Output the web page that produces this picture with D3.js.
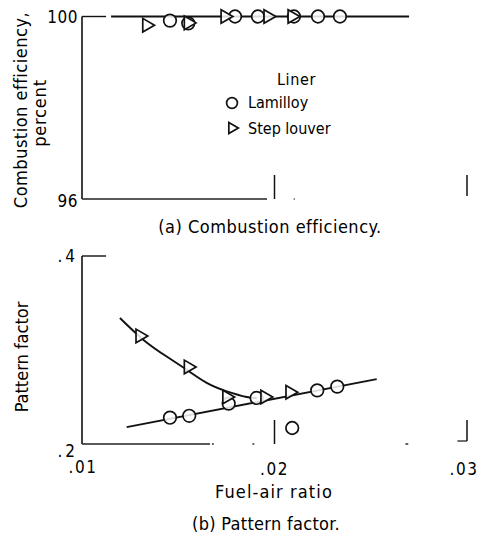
<!DOCTYPE html>
<html lang="en">
<head>
<meta charset="UTF-8">
<title>Combustion efficiency and pattern factor</title>
<style>
  body { margin: 0; background: #fff; }
  svg { display: block; }
  text { font-family: "DejaVu Sans Condensed", "Liberation Sans Narrow", "Liberation Sans", sans-serif; fill: #000; }
</style>
</head>
<body>
<script src="https://cdn.jsdelivr.net/npm/d3@7"></script>
<script>
// Fuel-air ratio axis
const xTicks = [0.01, 0.02, 0.03],
    xTickLabels = [".01", ".02", ".03"];

// (a) Combustion efficiency, percent
const effTicks = [96, 100],
    effTickLabels = ["96", "100"];
const effLamFar = [0.01457, 0.01552, 0.01795, 0.01914, 0.02101, 0.02226, 0.0234],
    effLamVal = [99.91, 99.85, 100, 100, 100, 100, 100];
const effStepFar = [0.01336, 0.01552, 0.01743, 0.01966, 0.02091],
    effStepVal = [99.81, 99.86, 100, 100, 100];
const effFitFar = [0.01151, 0.02699],
    effFitVal = [100, 100];

// (b) Pattern factor
const pfTicks = [0.2, 0.4],
    pfTickLabels = [".2", ".4"];
const pfLamFar = [0.01457, 0.01557, 0.01762, 0.01907, 0.02092, 0.02222, 0.02326],
    pfLamVal = [0.228, 0.230, 0.243, 0.249, 0.217, 0.257, 0.261];
const pfStepFar = [0.01301, 0.01552, 0.01752, 0.0195, 0.0208],
    pfStepVal = [0.315, 0.282, 0.250, 0.250, 0.255];
const pfLamFitFar = [0.01232, 0.02531],
    pfLamFitVal = [0.218, 0.269];
const pfStepFitFar = [0.01197, 0.01318, 0.0144, 0.01544, 0.01648, 0.01752, 0.01856, 0.01908],
    pfStepFitVal = [0.334, 0.311, 0.293, 0.279, 0.265, 0.256, 0.250, 0.249];

const width = 481, height = 540;
const x = d3.scaleLinear().domain([0.01, 0.03]).range([82, 467]);
const yEff = d3.scaleLinear().domain([96, 100]).range([199, 16.5]);
const yPf = d3.scaleLinear().domain([0.2, 0.4]).range([444, 256]);

const svg = d3.select("body").append("svg")
    .attr("width", width)
    .attr("height", height);

const zip = (a, b) => a.map((v, i) => [v, b[i]]);
const tri = d3.symbol().type(d3.symbolTriangle).size(80);

function drawPanel(g, y, opts) {
    const x0 = x.range()[0];
    const yb = y.range()[0], yt = y.range()[1];

    // frame bits (scanned original: left axis, short top stub, broken bottom line)
    g.append("line").attr("x1", x0).attr("x2", x0).attr("y1", yt).attr("y2", yb)
        .attr("stroke", "#111").attr("stroke-width", 1.6);
    g.append("line").attr("x1", x0).attr("x2", x(0.01125)).attr("y1", yt).attr("y2", yt)
        .attr("stroke", "#111").attr("stroke-width", 1.4);
    opts.baseSegs.forEach(s => {
        g.append("line").attr("x1", x(s[0])).attr("x2", x(s[1])).attr("y1", yb).attr("y2", yb)
            .attr("stroke", "#222").attr("stroke-width", 1.4);
    });
    // tick stubs at .02 and .03
    [0.02, 0.03].forEach(t => {
        g.append("line").attr("x1", x(t)).attr("x2", x(t))
            .attr("y1", yb - 24).attr("y2", yb - (t === 0.03 ? 3 : 0))
            .attr("stroke", "#111").attr("stroke-width", 1.5);
    });
    if (opts.stub) {
        g.append("line").attr("x1", x(0.0295)).attr("x2", x(0.03))
            .attr("y1", yb - 3).attr("y2", yb - 3)
            .attr("stroke", "#111").attr("stroke-width", 1.2);
    }

    // y tick labels
    g.selectAll(".ylab").data(opts.yTicks).enter().append("text")
        .attr("x", 78)
        .attr("y", (d, i) => y(d) + opts.yLabDy[i])
        .attr("text-anchor", "end")
        .attr("font-size", 17)
        .attr("letter-spacing", opts.yLetter)
        .text((d, i) => opts.yTickLabels[i]);

    // y title lines
    opts.titles.forEach(t => {
        g.append("text")
            .attr("transform", "translate(" + t.x + "," + t.y + ") rotate(-90)")
            .attr("text-anchor", "middle")
            .attr("font-size", 18)
            .attr("letter-spacing", t.ls)
            .text(t.text);
    });

    // fitted curves
    const line = d3.line().x(d => x(d[0])).y(d => y(d[1])).curve(d3.curveNatural);
    opts.fits.forEach(f => {
        g.append("path").attr("d", line(f))
            .attr("fill", "none").attr("stroke", "#111").attr("stroke-width", 1.9);
    });

    // data markers
    g.selectAll(".lam").data(opts.lam).enter().append("circle")
        .attr("cx", d => x(d[0])).attr("cy", d => y(d[1])).attr("r", 6.3)
        .attr("fill", "#fff").attr("fill-opacity", 0.85)
        .attr("stroke", "#111").attr("stroke-width", 1.7);
    g.selectAll(".step").data(opts.step).enter().append("path")
        .attr("d", tri)
        .attr("transform", d => "translate(" + x(d[0]) + "," + y(d[1]) + ") rotate(90)")
        .attr("fill", "#fff").attr("fill-opacity", 0.85)
        .attr("stroke", "#111").attr("stroke-width", 1.7);
}

// (a) Combustion efficiency
const ga = svg.append("g");
drawPanel(ga, yEff, {
    yTicks: effTicks, yTickLabels: effTickLabels, yLabDy: [8, 6.5], yLetter: 0.5,
    baseSegs: [[0.01, 0.01961], [0.0210, 0.02105]],
    titles: [
        {text: "Combustion efficiency,", x: 27, y: 110, ls: 0.5},
        {text: "percent", x: 46, y: 113, ls: 0.8}
    ],
    fits: [zip(effFitFar, effFitVal)],
    lam: zip(effLamFar, effLamVal),
    step: zip(effStepFar, effStepVal),
    stub: false
});

// legend
ga.append("text").attr("x", 277).attr("y", 85).attr("font-size", 16).attr("letter-spacing", 0.6).text("Liner");
ga.append("circle").attr("cx", 232).attr("cy", 103).attr("r", 5.4)
    .attr("fill", "#fff").attr("stroke", "#111").attr("stroke-width", 1.7);
ga.append("path").attr("d", d3.symbol().type(d3.symbolTriangle).size(52)())
    .attr("transform", "translate(232,128) rotate(90)")
    .attr("fill", "#fff").attr("stroke", "#111").attr("stroke-width", 1.7);
ga.append("text").attr("x", 248).attr("y", 108).attr("font-size", 16).text("Lamilloy");
ga.append("text").attr("x", 248).attr("y", 134).attr("font-size", 16).text("Step louver");

ga.append("text").attr("x", 270).attr("y", 233).attr("text-anchor", "middle")
    .attr("font-size", 18).attr("letter-spacing", 0.5).text("(a) Combustion efficiency.");

// (b) Pattern factor
const gb = svg.append("g");
drawPanel(gb, yPf, {
    yTicks: pfTicks, yTickLabels: pfTickLabels, yLabDy: [13, 6], yLetter: 3,
    baseSegs: [[0.01, 0.01665], [0.01675, 0.01685], [0.01885, 0.01895], [0.0268, 0.02695]],
    titles: [
        {text: "Pattern factor", x: 28, y: 357, ls: 0}
    ],
    fits: [zip(pfLamFitFar, pfLamFitVal), zip(pfStepFitFar, pfStepFitVal)],
    lam: zip(pfLamFar, pfLamVal),
    step: zip(pfStepFar, pfStepVal),
    stub: true
});

gb.selectAll(".xlab").data(xTicks).enter().append("text")
    .attr("x", d => x(d) + (d === 0.01 ? 1 : d === 0.03 ? -3 : 0))
    .attr("y", (d, i) => i === 0 ? 473 : 475)
    .attr("text-anchor", "middle")
    .attr("font-size", 17)
    .attr("letter-spacing", 1.5)
    .text((d, i) => xTickLabels[i]);

gb.append("text").attr("x", 274).attr("y", 498).attr("text-anchor", "middle")
    .attr("font-size", 18).attr("letter-spacing", 1.1).text("Fuel-air ratio");
gb.append("text").attr("x", 266).attr("y", 530).attr("text-anchor", "middle")
    .attr("font-size", 18).attr("letter-spacing", 0.3).text("(b) Pattern factor.");
</script>
</body>
</html>
